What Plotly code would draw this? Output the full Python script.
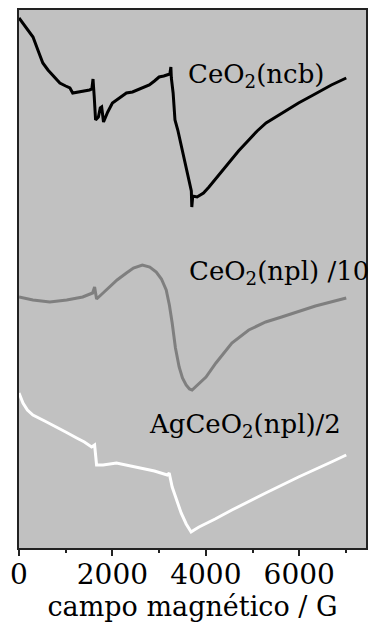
import plotly.graph_objects as go

# EPR spectra, field in gauss, intensity in arbitrary units (curves offset)
ncb_field = [0, 150, 300, 420, 510, 620, 725, 875, 1000, 1090, 1150, 1300, 1420, 1510,
             1560, 1585, 1610, 1640, 1700, 1740, 1770, 1810, 1900, 2000, 2150, 2300,
             2430, 2640, 2790, 2900, 3000, 3100, 3170, 3230, 3252, 3262, 3300, 3340,
             3400, 3493, 3560, 3642, 3690, 3700, 3720, 3813, 3950, 4068, 4300, 4494,
             4700, 4920, 5100, 5290, 5600, 5985, 6300, 6688, 7007]
ncb_signal = [530, 520, 511, 496, 485, 478, 473, 465, 462, 460, 455, 456, 457, 458,
              459, 469, 452, 428, 431, 440, 441, 426, 436, 445, 450, 455,
              456, 460, 463, 467, 471, 472, 473, 474, 481, 470, 455, 428,
              418, 398, 385, 368, 357, 341, 352, 351, 355, 361, 374, 385,
              397, 408, 417, 425, 434, 445, 453, 463, 470]

npl_field = [0, 298, 660, 1022, 1363, 1576, 1619, 1661, 1800, 1938, 2100, 2300, 2450,
             2641, 2800, 2939, 3050, 3152, 3220, 3280, 3350, 3429, 3500, 3578, 3650,
             3706, 3780, 3880, 4004, 4217, 4558, 4920, 5282, 5623, 6000, 6347, 7007]
npl_signal = [251, 248, 246, 248, 251, 255, 261, 249, 255, 261, 268, 275, 280,
              283, 281, 276, 269, 258, 243, 225, 200, 181, 170, 163, 159,
              158, 161, 166, 171, 185, 205, 218, 226, 231, 237, 242, 250]

ag_field = [0, 40, 85, 180, 298, 550, 809, 1000, 1235, 1400, 1555, 1600, 1619, 1661,
            1800, 2087, 2300, 2577, 2900, 3174, 3216, 3280, 3380, 3472, 3580, 3685,
            3750, 3855, 4200, 4558, 5282, 5985, 6688, 7007]
ag_signal = [155, 151, 145, 138, 133, 127, 121, 116, 110, 106, 101, 102, 103, 83,
             83, 85, 83, 80, 77, 73, 75, 61, 48, 35, 24, 16,
             18, 21, 29, 38, 55, 71, 86, 93]

labels = ["CeO<sub>2</sub>(ncb)", "CeO<sub>2</sub>(npl) /10", "AgCeO<sub>2</sub>(npl)/2"]
label_pos = [(3578, 473), (3600, 276), (2748, 123)]

FONT = "DejaVu Serif"

fig = go.Figure()
for fx, fy, col in [(ncb_field, ncb_signal, "#000000"),
                    (npl_field, npl_signal, "#7f7f7f"),
                    (ag_field, ag_signal, "#ffffff")]:
    fig.add_trace(go.Scatter(x=fx, y=fy, mode="lines",
                             line=dict(color=col, width=3), showlegend=False,
                             hoverinfo="skip"))

for txt, (lx, ly) in zip(labels, label_pos):
    fig.add_annotation(x=lx, y=ly, xref="x", yref="y", text=txt, showarrow=False,
                       xanchor="left", yanchor="middle",
                       font=dict(family=FONT, size=26, color="#000000"))

fig.update_layout(
    width=370, height=634, autosize=False,
    margin=dict(l=19, r=2, t=10, b=86),
    plot_bgcolor="#c1c1c1", paper_bgcolor="#ffffff",
    font=dict(family=FONT, size=25, color="#000000"),
)
fig.update_xaxes(
    range=[0, 7430], tick0=0, dtick=2000, ticks="outside", ticklen=6, tickwidth=2,
    tickcolor="#222222", showline=True, linewidth=2, linecolor="#222222", mirror=True,
    showgrid=False, zeroline=False, ticklabelstandoff=-6,
    minor=dict(dtick=1000, tick0=0, ticks="outside", ticklen=3, tickwidth=2,
               tickcolor="#222222", showgrid=False),
    tickfont=dict(family=FONT, size=28, color="#000000"),
    title=dict(text="campo magnético / G", font=dict(family=FONT, size=27),
               standoff=4),
)
fig.update_yaxes(
    range=[0, 538], showticklabels=False, ticks="", showline=True, linewidth=2,
    linecolor="#222222", mirror=True, showgrid=False, zeroline=False,
)

fig.write_html("out.html")
